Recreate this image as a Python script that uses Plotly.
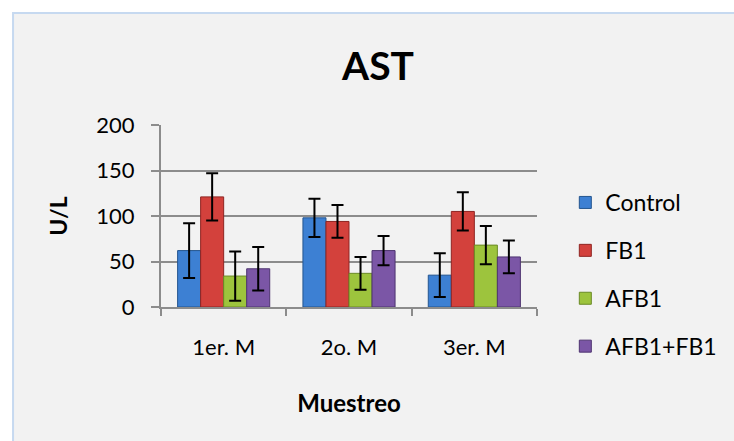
import plotly.graph_objects as go

categories = ["1er. M", "2o. M", "3er. M"]
series_names = ["Control", "FB1", "AFB1", "AFB1+FB1"]
control = [62, 98, 35]
fb1 = [121, 94, 105]
afb1 = [34, 37, 68]
afb1_fb1 = [42, 62, 55]
control_err = [30, 21, 24]
fb1_err = [26, 18, 21]
afb1_err = [27, 18, 21]
afb1_fb1_err = [24, 16, 18]
y_ticks = [0, 50, 100, 150, 200]

values = [control, fb1, afb1, afb1_fb1]
errors = [control_err, fb1_err, afb1_err, afb1_fb1_err]
colors = ["#3d80d3", "#d3413c", "#9dc43d", "#7b56a6"]
edges = ["#24558f", "#8f2522", "#6a8a25", "#4e3470"]

FONT = "Lato, Calibri, sans-serif"

fig = go.Figure()
for i, name in enumerate(series_names):
    fig.add_trace(go.Bar(
        x=categories, y=values[i], name=name, legendgroup=name,
        marker=dict(color=colors[i], line=dict(color=edges[i], width=1)),
        error_y=dict(type="data", array=errors[i], visible=True,
                     color="black", thickness=2, width=6),
    ))

# plot area in pixels: x 161..546, y 125..307
L, R, T, B = 161, 734 - 546, 125, 441 - 307
pw, ph = 734 - L - R, 441 - T - B

def px_x(p):
    return (p - L) / pw

def px_y(p):
    return (441 - B - p) / ph

fig.add_shape(type="rect", xref="paper", yref="paper",
              x0=px_x(9.5), x1=px_x(760), y0=px_y(13), y1=px_y(460),
              fillcolor="#f2f2f2", line=dict(color="#c6d9f0", width=2),
              layer="below")

fig.update_layout(
    width=734, height=441,
    margin=dict(l=L, r=R, t=T, b=B),
    paper_bgcolor="white",
    plot_bgcolor="rgba(0,0,0,0)",
    barmode="group", bargap=0.265, bargroupgap=0,
    font=dict(family=FONT, size=22, color="black"),
    title=dict(text="<b>AST</b>", x=378 / 734, xanchor="center",
               y=1 - 66 / 441, yanchor="middle",
               font=dict(family=FONT, size=39, color="black")),
    showlegend=True,
    legend=dict(x=px_x(575), xanchor="left", y=px_y(181), yanchor="top",
                bgcolor="rgba(0,0,0,0)", tracegroupgap=15, maxheight=400,
                font=dict(family=FONT, size=23, color="black")),
    xaxis=dict(
        showline=True, linecolor="#8c8c8c", linewidth=2,
        ticks="outside", tickson="boundaries", ticklen=7, tickwidth=2,
        tickcolor="#8c8c8c", ticklabelstandoff=20,
        title=dict(text="<b>Muestreo</b>", standoff=36,
                   font=dict(family=FONT, size=24)),
    ),
    yaxis=dict(
        range=[0, 200], tickvals=y_ticks,
        showline=True, linecolor="#8c8c8c", linewidth=2,
        showgrid=True, gridcolor="#8c8c8c", gridwidth=2,
        ticks="outside", ticklen=8, tickwidth=2, tickcolor="#8c8c8c",
        ticklabelstandoff=12, zeroline=False,
        title=dict(text="<b>U/L</b>", standoff=22,
                   font=dict(family=FONT, size=23)),
    ),
)

fig.write_html("out.html", config={"displayModeBar": False},
               post_script="document.body.style.margin='0';")
